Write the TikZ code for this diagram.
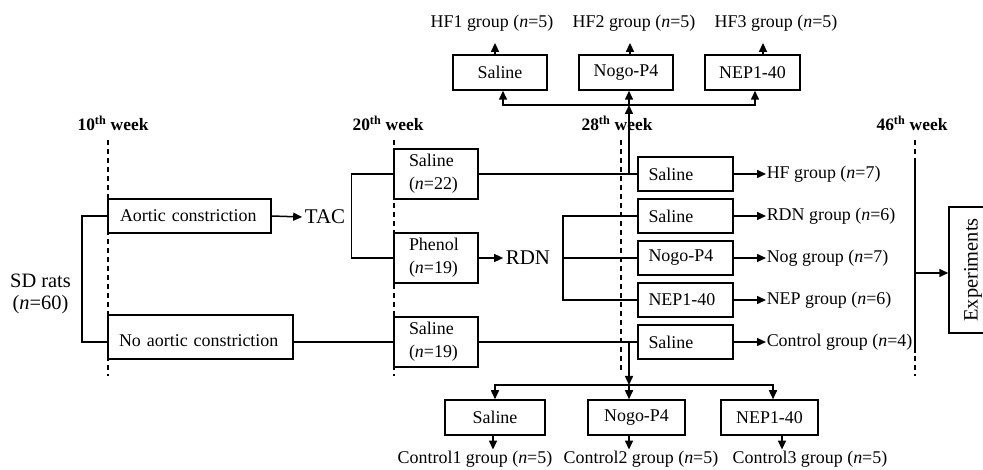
\documentclass[tikz,border=0pt]{standalone}
\usepackage{fontspec}
\setmainfont{Liberation Serif}
\usetikzlibrary{arrows.meta}
\newcommand\fs{\fontsize{18}{23}\selectfont}
\newcommand\fsL{\fontsize{20.5}{22.5}\selectfont}
\newcommand\fsT{\fontsize{21}{24}\selectfont}
\newcommand\fsW{\fontsize{17.5}{20}\selectfont\bfseries}
\newcommand\nn{\textit{n}}
\begin{document}
\begin{tikzpicture}[x=1bp,y=-1bp, line width=1.5bp,
  box/.style={draw, line width=1.5bp, inner sep=0pt, font=\fs},
  rbox/.style={box, minimum width=95bp, minimum height=34bp, text width=74bp, align=left},
  mbox/.style={box, minimum width=84bp, minimum height=50bp, text width=54bp, align=left},
  lbl/.style={inner sep=0pt, font=\fs},
  toplbl/.style={inner xsep=0pt, inner ysep=11bp, font=\fs},
  botlbl/.style={inner xsep=0pt, inner ysep=0.5bp, font=\fs},
  rlbl/.style={inner sep=0pt, anchor=west, font=\fs},
  arr/.style={-{Triangle[length=9bp,width=8bp]}},
  vline/.style={dash pattern=on 5bp off 4bp, line width=1.5bp},
  wk/.style={font=\fsW, inner sep=0pt}]
\useasboundingbox (0,0) rectangle (983,470);
\clip (0,0) rectangle (983,470);

% week labels and time lines
\node[wk] (w10) at (113,123) {10\textsuperscript{th} week};
\node[wk] (w20) at (388,123) {20\textsuperscript{th} week};
\node[wk] (w28) at (617,123) {28\textsuperscript{th} week};
\node[wk] (w46) at (912,123) {46\textsuperscript{th} week};
\draw[vline] (108,140) -- (108,376);
\draw[vline] (394,140) -- (394,376);
\draw[vline] (621,140) -- (621,374);
\draw[vline] (915,140) -- (915,376);
\draw (915,162) -- (915,353);

% left part
\node[lbl, font=\fsL, align=center] (sd) at (40.5,294) {SD rats\\(\nn=60)};
\node[box, minimum width=163bp, minimum height=34bp, text width=139bp, align=left] (aortic) at (189.5,216) {Aortic constriction};
\node[box, minimum width=185bp, minimum height=44bp, text width=163bp, align=left, text height=20bp, text depth=0pt] (nac) at (200.5,337) {No aortic constriction};
\node[lbl, font=\fsT, inner xsep=2bp] (tac) at (325,217) {TAC};

% 20th week boxes
\node[mbox] (s22) at (436,174) {Saline\\(\nn=22)};
\node[mbox] (phe) at (436,258) {Phenol\\(\nn=19)};
\node[mbox] (s19) at (436,342) {Saline\\(\nn=19)};
\node[lbl, font=\fsT, inner xsep=2bp] (rdn) at (528,258) {RDN};

% 28th week boxes
\node[rbox] (r1) at (685.5,174) {Saline};
\node[rbox] (r2) at (685.5,216) {Saline};
\node[rbox] (r3) at (685.5,258) {Nogo-P4};
\node[rbox] (r4) at (685.5,300) {NEP1-40};
\node[rbox] (r5) at (685.5,342) {Saline};
\node[rlbl] (h1) at (766,174) {HF group (\nn=7)};
\node[rlbl] (h2) at (766,216) {RDN group (\nn=6)};
\node[rlbl] (h3) at (766,258) {Nog group (\nn=7)};
\node[rlbl] (h4) at (766,300) {NEP group (\nn=6)};
\node[rlbl] (h5) at (766,342) {Control group (\nn=4)};

% top boxes
\node[box, minimum width=94bp, minimum height=35bp] (t1) at (500,72.5) {Saline};
\node[box, minimum width=94bp, minimum height=35bp] (t2) at (626,72.5) {Nogo-P4};
\node[box, minimum width=95bp, minimum height=35bp] (t3) at (752.5,72.5) {NEP1-40};
\node[toplbl] (g1) at (492,23) {HF1 group (\nn=5)};
\node[toplbl] (g2) at (634,23) {HF2 group (\nn=5)};
\node[toplbl] (g3) at (776,23) {HF3 group (\nn=5)};

% bottom boxes
\node[box, minimum width=100bp, minimum height=35bp] (b1) at (495,417.5) {Saline};
\node[box, minimum width=97bp, minimum height=35bp] (b2) at (636.5,417.5) {Nogo-P4};
\node[box, minimum width=97bp, minimum height=35bp] (b3) at (769.5,417.5) {NEP1-40};
\node[botlbl] (c1) at (475,459) {Control1 group (\nn=5)};
\node[botlbl] (c2) at (641,459) {Control2 group (\nn=5)};
\node[botlbl] (c3) at (810,459) {Control3 group (\nn=5)};

% experiments
\node[box, font=\fsL, minimum width=48bp, minimum height=126bp] (exp) at (973,270) {\rotatebox{90}{Experiments}};

% connectors
\draw (aortic.west) -- ++(-25,0) |- (nac.west |- s19.west);
\draw[arr] (aortic.east) -- (tac.west);
\draw (s22.west) -- ++(-42,0) |- (phe.west);
\draw (nac.east |- s19.west) -- (s19.west);
\draw[arr] (phe.east) -- (rdn.west);
\draw (s22.east) -- (r1.west);
\coordinate (rb) at (563,258);
\draw (r2.west) -| (rb) |- (r4.west);
\draw (rb) -- (r3.west);
\draw (s19.east) -- (r5.west);

\draw[arr] (r1.east) -- (h1.west);
\draw[arr] (r2.east) -- (h2.west);
\draw[arr] (r3.east) -- (h3.west);
\draw[arr] (r4.east) -- (h4.west);
\draw[arr] (r5.east) -- (h5.west);

% upward branch
\coordinate (up) at (629,174);
\coordinate (tb) at (629,105);
\draw[arr] (up) -- (tb);
\draw[arr] (tb) -| ([xshift=3bp]t1.south);
\draw[arr] (tb) -- (tb |- t2.south);
\draw[arr] (tb) -| ([xshift=2.5bp]t3.south);
\draw[arr] ([xshift=-5bp]t1.north) -- ([xshift=-5bp]t1.north |- g1.south);
\draw[arr] ([xshift=4bp]t2.north) -- ([xshift=4bp]t2.north |- g2.south);
\draw[arr] ([xshift=10.5bp]t3.north) -- ([xshift=10.5bp]t3.north |- g3.south);

% downward branch
\coordinate (dn) at (629,342);
\coordinate (bb) at (629,385);
\draw[arr] (dn) -- (bb);
\draw[arr] (bb) -| (b1.north);
\draw[arr] (bb) -- (bb |- b2.north);
\draw[arr] (bb) -| ([xshift=3.5bp]b3.north);
\draw[arr] ([xshift=-2bp]b1.south) -- ([xshift=-2bp]b1.south |- c1.north);
\draw[arr] (b2.south -| bb) -- (bb |- c2.north);
\draw[arr] ([xshift=12.5bp]b3.south) -- ([xshift=12.5bp]b3.south |- c3.north);

% 46th week to experiments
\coordinate (e46) at (915,273);
\draw[arr] (e46) -- (e46 -| exp.west);
\end{tikzpicture}
\end{document}
